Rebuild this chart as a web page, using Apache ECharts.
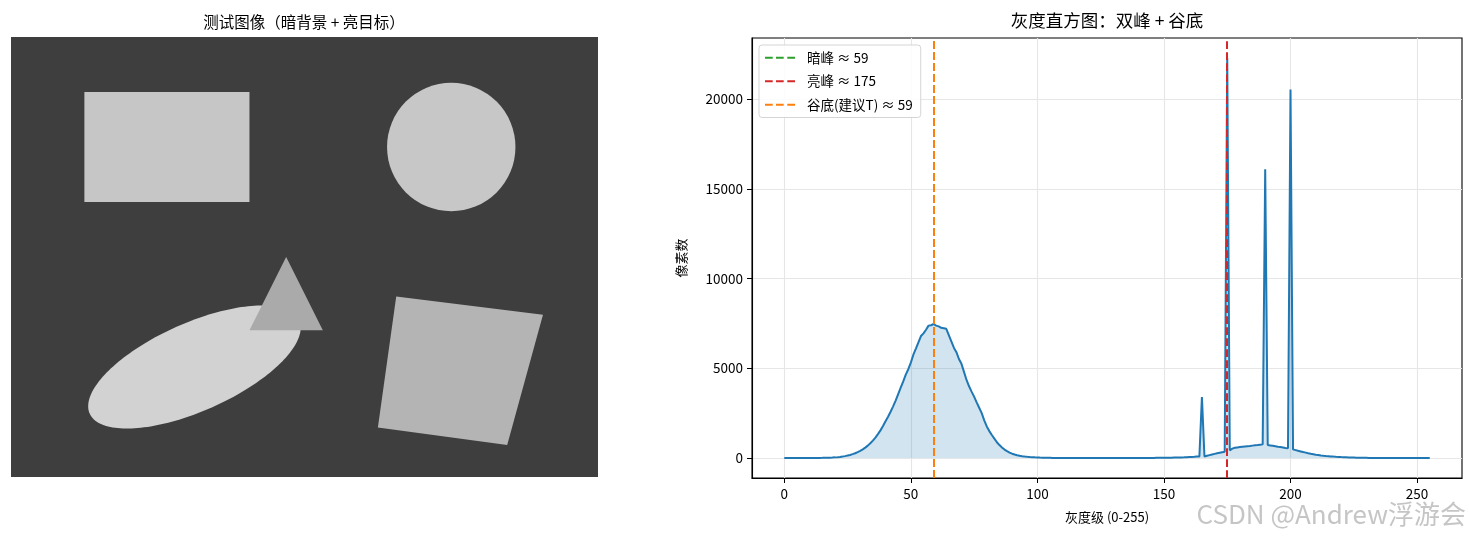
<!DOCTYPE html>
<html><head><meta charset="utf-8">
<script src="https://cdn.jsdelivr.net/npm/echarts@6/dist/echarts.min.js"></script>
<style>html,body{margin:0;padding:0;background:#fff}#c{width:1469px;height:538px}</style>
</head><body><div id="c"></div>
<script>
// ---- histogram data (pixel count per gray level 0..255) ----
const histCounts = [
  0,0,0,0,0,0,0,0,1,1,
  1,2,2,3,5,7,10,14,19,26,
  35,47,62,81,105,135,170,215,265,330,
  400,480,580,690,820,970,1140,1330,1540,1780,
  2050,2300,2580,2880,3200,3560,3920,4270,4650,4950,
  5320,5760,6100,6450,6800,6950,7150,7380,7400,7470,
  7380,7340,7260,7230,7200,6850,6500,6150,5900,5520,
  5250,4800,4350,4000,3700,3420,3100,2800,2500,2100,
  1760,1500,1280,1080,880,720,590,470,380,300,
  240,195,155,125,100,82,66,54,44,35,
  28,22,17,13,10,8,6,5,4,3,
  2,2,1,1,1,1,0,0,0,0,
  0,0,0,0,0,0,0,0,0,0,
  0,0,0,0,0,0,0,0,0,0,
  0,1,1,2,3,4,5,7,8,10,
  12,14,16,19,22,25,29,34,40,47,
  55,62,70,80,90,3400,85,125,160,195,
  230,260,290,320,350,22300,430,520,570,590,
  610,625,640,655,670,690,705,720,740,760,
  16100,720,700,680,655,630,610,585,560,540,
  20550,480,440,400,365,330,300,265,235,210,
  185,165,145,128,112,100,88,77,67,58,
  50,43,37,31,26,22,18,15,12,10,
  8,6,5,4,3,2,2,1,1,1,
  0,0,0,0,0,0,0,0,0,0,
  0,0,0,0,0,0
];
const darkPeak = 59;
const brightPeak = 175;
const valleyT = 59;
const xTickValues = [0, 50, 100, 150, 200, 250];
const yTickValues = [0, 5000, 10000, 15000, 20000];

// ---- test image (640x480) shapes ----
const imageSize = [640, 480];
const rectBox = [80, 60, 260, 180];            // x0, y0, x1, y1
const circleShape = [480, 120, 70];            // cx, cy, r
const ellipseShape = [200, 360, 125, 48, 24];  // cx, cy, a, b, tilt(deg)
const trianglePts = [300, 240, 260, 320, 340, 320];
const squarePts = [420, 283, 580, 303, 541, 445, 400, 426];

const FONT = '"Noto Sans CJK SC", "Noto Sans", sans-serif';
const chart = echarts.init(document.getElementById('c'), null, {renderer: 'canvas'});

function polyFromFlat(flat, api) {
  const pts = [];
  for (let i = 0; i < flat.length; i += 2) pts.push(api.coord([flat[i], flat[i + 1]]));
  return pts;
}
function shapeSeries(name, color, build) {
  return {
    type: 'custom', name: name, xAxisIndex: 0, yAxisIndex: 0, silent: true, clip: false,
    data: [[0, 0]],
    renderItem: function (params, api) { return build(api, color); }
  };
}

const imageSeries = [
  shapeSeries('bg', '#3e3e3e', function (api, color) {
    const p0 = api.coord([0, 0]), p1 = api.coord(imageSize);
    return {type: 'rect', shape: {x: p0[0], y: p0[1], width: p1[0] - p0[0], height: p1[1] - p0[1]}, style: {fill: color}};
  }),
  shapeSeries('rect', '#c6c6c6', function (api, color) {
    const p0 = api.coord([rectBox[0], rectBox[1]]), p1 = api.coord([rectBox[2], rectBox[3]]);
    return {type: 'rect', shape: {x: p0[0], y: p0[1], width: p1[0] - p0[0], height: p1[1] - p0[1]}, style: {fill: color}};
  }),
  shapeSeries('circle', '#c7c7c7', function (api, color) {
    const c = api.coord([circleShape[0], circleShape[1]]);
    const r = api.size([circleShape[2], circleShape[2]])[0];
    return {type: 'circle', shape: {cx: c[0], cy: c[1], r: r}, style: {fill: color}};
  }),
  shapeSeries('ellipse', '#d2d2d2', function (api, color) {
    const [cx, cy, a, b, deg] = ellipseShape;
    const th = deg * Math.PI / 180;
    const pts = [];
    for (let k = 0; k < 180; k++) {
      const t = k * 2 * Math.PI / 180;
      const x = cx + a * Math.cos(t) * Math.cos(th) - b * Math.sin(t) * Math.sin(th);
      const y = cy - (a * Math.cos(t) * Math.sin(th) + b * Math.sin(t) * Math.cos(th));
      pts.push(api.coord([x, y]));
    }
    return {type: 'polygon', shape: {points: pts}, style: {fill: color}};
  }),
  shapeSeries('triangle', '#aaaaaa', function (api, color) {
    return {type: 'polygon', shape: {points: polyFromFlat(trianglePts, api)}, style: {fill: color}};
  }),
  shapeSeries('square', '#b4b4b4', function (api, color) {
    return {type: 'polygon', shape: {points: polyFromFlat(squarePts, api)}, style: {fill: color}};
  })
];

const dashIcon = 'path://M0,0h7.7v2h-7.7z M11,0h7.7v2h-7.7z M22.3,0h7.7v2h-7.7z';
const vLines = [
  {name: '暗峰 ≈ ' + darkPeak, value: darkPeak, color: '#2ca02c'},
  {name: '亮峰 ≈ ' + brightPeak, value: brightPeak, color: '#d62728'},
  {name: '谷底(建议T) ≈ ' + valleyT, value: valleyT, color: '#ff7f0e'}
];
const lineSeries = vLines.map(function (l, i) {
  return {
    type: 'line', name: l.name, xAxisIndex: 1, yAxisIndex: 1, data: [],
    itemStyle: {color: l.color}, lineStyle: {color: l.color}, z: 5 + i,
    markLine: {
      silent: true, symbol: ['none', 'none'], animation: false,
      label: {show: false},
      lineStyle: {color: l.color, width: 2, type: [7.7, 3.3]},
      data: [{xAxis: l.value}]
    }
  };
});

const plainNum = function (v) { return String(v); };

const option = {
  animation: false,
  grid: [
    {left: 11, top: 37, width: 587, height: 440, show: false},
    {left: 752, right: 7, top: 38, bottom: 60, show: true, borderColor: '#000', borderWidth: 1.1, backgroundColor: 'transparent'}
  ],
  xAxis: [
    {gridIndex: 0, type: 'value', min: 0, max: imageSize[0], show: false},
    {
      gridIndex: 1, type: 'value', min: -12.75, max: 267.75,
      name: '灰度级 (0-255)', nameLocation: 'middle', nameGap: 33,
      nameTextStyle: {fontSize: 13, color: '#000', fontFamily: FONT},
      axisLine: {show: true, onZero: false, lineStyle: {color: '#000', width: 1.1}},
      axisTick: {show: true, inside: false, customValues: xTickValues, length: 5, lineStyle: {color: '#000', width: 1}},
      axisLabel: {customValues: xTickValues, formatter: plainNum, fontSize: 13.5, color: '#000', fontFamily: FONT, margin: 9},
      splitLine: {show: true, lineStyle: {color: '#e6e6e6', width: 1.1}}
    }
  ],
  yAxis: [
    {gridIndex: 0, type: 'value', min: 0, max: imageSize[1], inverse: true, show: false},
    {
      gridIndex: 1, type: 'value', min: -1115, max: 23415,
      name: '像素数', nameLocation: 'middle', nameGap: 64, nameRotate: 90,
      nameTextStyle: {fontSize: 13, color: '#000', fontFamily: FONT},
      axisLine: {show: true, onZero: false, lineStyle: {color: '#000', width: 1.1}},
      axisTick: {show: true, inside: false, customValues: yTickValues, length: 5, lineStyle: {color: '#000', width: 1}},
      axisLabel: {customValues: yTickValues, formatter: plainNum, fontSize: 13.5, color: '#000', fontFamily: FONT, margin: 9},
      splitLine: {show: true, lineStyle: {color: '#e6e6e6', width: 1.1}}
    }
  ],
  legend: {
    orient: 'vertical', left: 759, top: 45,
    data: vLines.map(function (l) { return l.name; }),
    icon: dashIcon, itemWidth: 30, itemHeight: 14, itemGap: 10,
    padding: [6, 8, 6, 6],
    backgroundColor: 'rgba(255,255,255,0.85)', borderColor: '#d5d5d5', borderWidth: 1, borderRadius: 3,
    selectedMode: false,
    textStyle: {fontSize: 13.5, color: '#000', fontFamily: FONT, padding: [0, 0, 0, 7]}
  },
  graphic: [
    {type: 'text', x: 304, y: 22, silent: true,
     style: {text: '测试图像（暗背景 + 亮目标）', fontSize: 15.5, fontFamily: FONT, fill: '#000', align: 'center', verticalAlign: 'middle'}},
    {type: 'text', x: 1107, y: 20, silent: true,
     style: {text: '灰度直方图：双峰 + 谷底', fontSize: 17.5, fontFamily: FONT, fill: '#000', align: 'center', verticalAlign: 'middle'}},
    {type: 'text', x: 1466, y: 514, silent: true, z: 100,
     style: {text: 'CSDN @Andrew浮游会', fontSize: 26, fontFamily: FONT, fill: 'rgba(150,150,150,0.55)', align: 'right', verticalAlign: 'middle'}}
  ],
  series: imageSeries.concat([
    {
      type: 'line', name: 'hist', xAxisIndex: 1, yAxisIndex: 1,
      data: histCounts.map(function (v, i) { return [i, v]; }),
      showSymbol: false, symbol: 'none', z: 3,
      lineStyle: {color: '#1f77b4', width: 2},
      itemStyle: {color: '#1f77b4'},
      areaStyle: {color: '#1f77b4', opacity: 0.2}
    }
  ]).concat(lineSeries)
};
chart.setOption(option);
</script>
</body></html>
